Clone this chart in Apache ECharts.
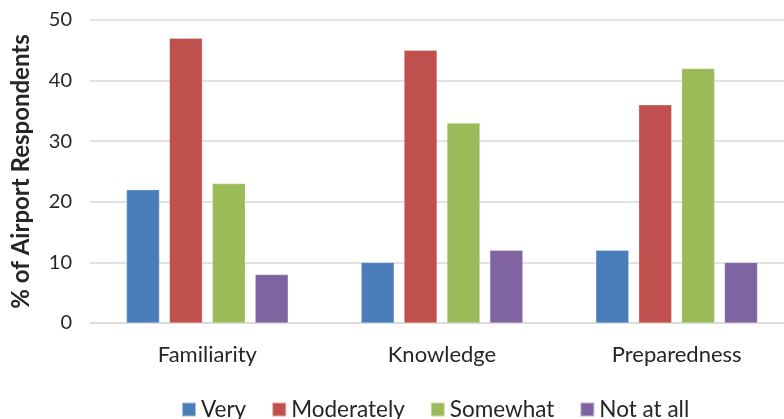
<!DOCTYPE html>
<html><head><meta charset="utf-8">
<script src="https://cdn.jsdelivr.net/npm/echarts@6/dist/echarts.min.js"></script>
<style>html,body{margin:0;padding:0;background:#fff}#c{width:784px;height:419px}</style>
</head><body><div id="c"></div>
<script>
const categories = ['Familiarity', 'Knowledge', 'Preparedness'];
const seriesNames = ['Very', 'Moderately', 'Somewhat', 'Not at all'];
const very = [22, 10, 12];
const moderately = [47, 45, 36];
const somewhat = [23, 33, 42];
const notAtAll = [8, 12, 10];
const yTicks = [0, 10, 20, 30, 40, 50];
const colors = ['#4a7ebb', '#c0504d', '#9bbb59', '#8064a2'];
const values = [very, moderately, somewhat, notAtAll];
const font = 'Lato';
const chart = echarts.init(document.getElementById('c'));
chart.setOption({
  animation: false,
  color: colors,
  textStyle: {fontFamily: font, color: '#262626'},
  grid: {left: 90, width: 704, top: 20, bottom: 96, containLabel: false, outerBoundsMode: 'none'},
  legend: {
    top: 393, left: 176, icon: 'rect', itemWidth: 14, itemHeight: 14, itemGap: 25,
    textStyle: {fontFamily: font, fontSize: 22.5, color: '#262626'},
    data: seriesNames
  },
  xAxis: {
    type: 'category', data: categories,
    axisLine: {lineStyle: {color: '#d9d9d9', width: 1.5}},
    axisTick: {show: false},
    axisLabel: {fontFamily: font, fontSize: 22, color: '#262626', margin: 21}
  },
  yAxis: {
    type: 'value', min: yTicks[0], max: yTicks[yTicks.length - 1], interval: 10,
    name: '% of Airport Respondents', nameLocation: 'middle', nameGap: 57,
    nameTextStyle: {fontFamily: font, fontSize: 24, fontWeight: 'bold', color: '#262626'},
    axisLine: {show: false}, axisTick: {show: false},
    axisLabel: {fontFamily: font, fontSize: 20, color: '#262626', margin: 18},
    splitLine: {lineStyle: {color: '#d9d9d9', width: 1.5}}
  },
  series: seriesNames.map((n, i) => ({
    name: n, type: 'bar', data: values[i], barWidth: 33, barGap: '30%',
    itemStyle: {borderColor: 'rgba(255,255,255,0.5)', borderWidth: 0.5}
  }))
});
</script></body></html>
